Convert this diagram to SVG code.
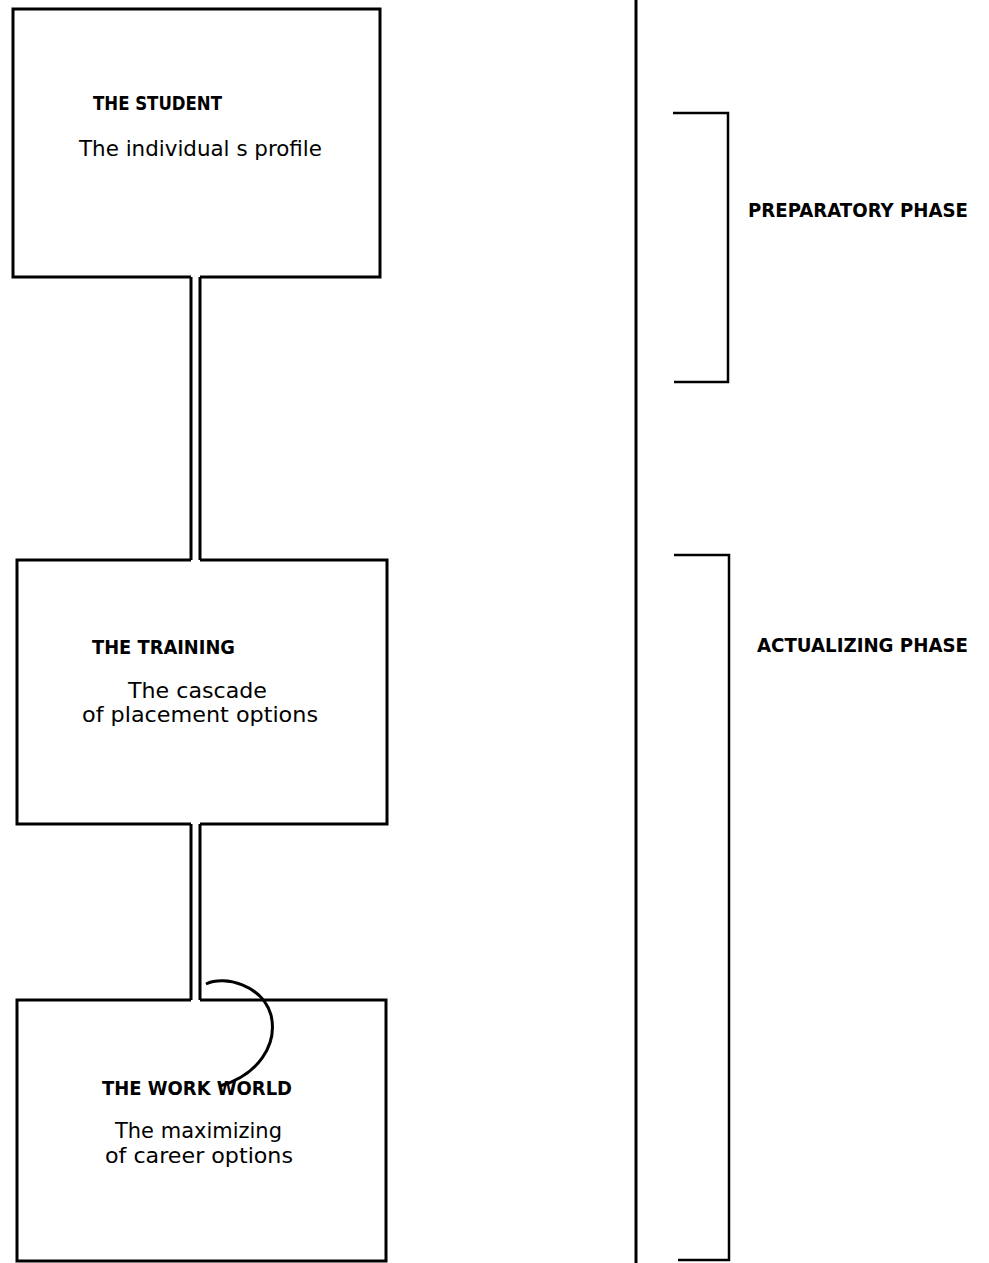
<svg xmlns="http://www.w3.org/2000/svg" width="989" height="1263" viewBox="0 0 989 1263">
<style>
.box{fill:none;stroke:#000;stroke-width:3;stroke-linejoin:miter}
.ln{fill:none;stroke:#000;stroke-width:3}
.br{fill:none;stroke:#000;stroke-width:2.5}
.hd{font-family:"DejaVu Sans","Liberation Sans",sans-serif;font-weight:bold;font-size:20px;fill:#000}
.bd{font-family:"DejaVu Sans","Liberation Sans",sans-serif;font-size:21.5px;fill:#000}
</style>
<rect x="0" y="0" width="989" height="1263" fill="#fff"/>
<g id="student">
<path class="box" d="M191,277 H13 V9 H380 V277 H200"/>
<text class="hd" x="93" y="110" textLength="129" lengthAdjust="spacingAndGlyphs">THE STUDENT</text>
<text class="bd" x="79" y="156" textLength="243" lengthAdjust="spacingAndGlyphs">The individual s profile</text>
</g>
<g id="training">
<path class="box" d="M191,560 H17 V824 H191 M200,824 H387 V560 H200"/>
<text class="hd" x="92" y="654" textLength="143" lengthAdjust="spacingAndGlyphs">THE TRAINING</text>
<text class="bd" x="128" y="698" textLength="139" lengthAdjust="spacingAndGlyphs">The cascade</text>
<text class="bd" x="82" y="722" textLength="236" lengthAdjust="spacingAndGlyphs">of placement options</text>
</g>
<g id="workworld">
<path class="box" d="M191,1000 H17 V1261 H386 V1000 H200"/>
<text class="hd" x="102" y="1095" textLength="190" lengthAdjust="spacingAndGlyphs">THE WORK WORLD</text>
<text class="bd" x="115" y="1138" textLength="167" lengthAdjust="spacingAndGlyphs">The maximizing</text>
<text class="bd" x="105" y="1163" textLength="188" lengthAdjust="spacingAndGlyphs">of career options</text>
</g>
<g id="connectors">
<path class="ln" d="M191,277 V560 M200,277 V560"/>
<path class="ln" d="M191,824 V1000 M200,824 V1000"/>
<path fill="none" stroke="#000" stroke-width="3" d="M206,984 C225,975 262,985 271,1015 C278,1045 258,1075 220,1086"/>
</g>
<g id="divider">
<line class="ln" x1="636" y1="0" x2="636" y2="1263"/>
</g>
<g id="preparatory">
<path class="br" d="M673,113 H728 V382 H674"/>
<text class="hd" x="748" y="217" textLength="220" lengthAdjust="spacingAndGlyphs">PREPARATORY PHASE</text>
</g>
<g id="actualizing">
<path class="br" d="M674,555 H729 V1260 H678"/>
<text class="hd" x="757" y="652" textLength="211" lengthAdjust="spacingAndGlyphs">ACTUALIZING PHASE</text>
</g>
</svg>
